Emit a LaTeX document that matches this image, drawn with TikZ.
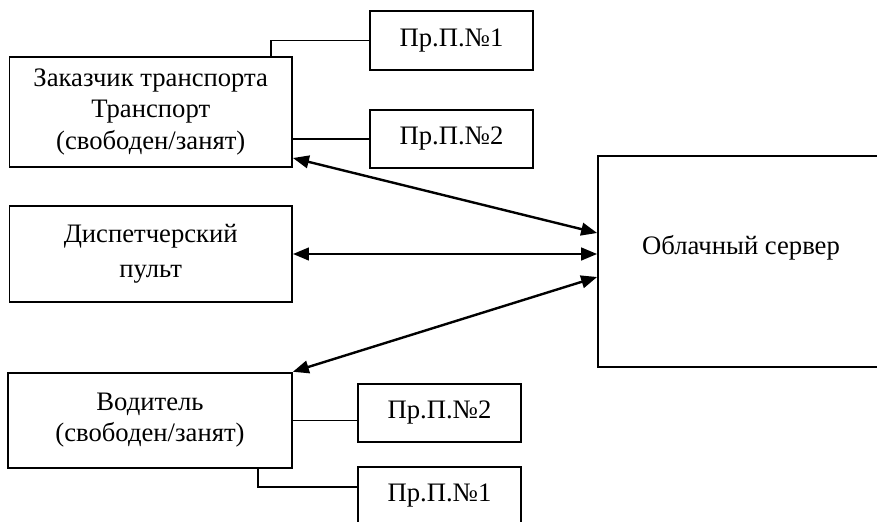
\documentclass[tikz,border=0pt]{standalone}
\usepackage{fontspec}
\setmainfont{Liberation Serif}
\usetikzlibrary{arrows.meta}
\tikzset{
  box/.style={draw, line width=1.3pt, inner sep=0pt, align=center, font=\fontsize{20}{23.5}\selectfont},
  link/.style={line width=1.2pt},
  dblarrow/.style={line width=1.8pt, {Triangle[length=12pt,width=9.5pt]}-{Triangle[length=12pt,width=9.5pt]}}
}
\begin{document}
\begin{tikzpicture}[x=0.75pt,y=0.75pt,yscale=-1,xscale=1]
            \useasboundingbox (0,0) rectangle (877,521);
            \clip (0,0) rectangle (877,521);
            %Shape: Rectangle [id:zak]
            \node [box, minimum width=212pt, minimum height=82.5pt] (zak) at (150.75,112) {Заказчик транспорта\\Транспорт\\(свободен/занят)};
            %Shape: Rectangle [id:pp1a]
            \node [box, minimum width=122pt, minimum height=44pt] (pp1a) at (451.5,40.5) {Пр.П.№1};
            %Shape: Rectangle [id:pp2a]
            \node [box, minimum width=122pt, minimum height=44pt] (pp2a) at (451.5,139) {Пр.П.№2};
            %Shape: Rectangle [id:disp]
            \node [box, minimum width=212pt, minimum height=72pt] (disp) at (150.75,254) {Диспетчерский\\[3pt]пульт};
            %Shape: Rectangle [id:cloud]
            \node [box, minimum width=214.5pt, minimum height=158pt] (cloud) at (741,261.5) {};
            % Text Node
            \node [font=\fontsize{20}{23.5}\selectfont, inner sep=0pt] (cloudtxt) at (741,248) {Облачный сервер};
            %Shape: Rectangle [id:vod]
            \node [box, minimum width=213pt, minimum height=71.5pt] (vod) at (150,420.3) {Водитель\\(свободен/занят)};
            %Shape: Rectangle [id:pp2b]
            \node [box, minimum width=122pt, minimum height=44pt] (pp2b) at (439.5,413) {Пр.П.№2};
            %Shape: Rectangle [id:pp1b]
            \node [box, minimum width=122pt, minimum height=44pt] (pp1b) at (439.5,496) {Пр.П.№1};

            %Straight Lines
            \draw [link] (zak.north -| 271,0) |- (pp1a.west);
            \draw [link] (pp2a.west -| zak.east) -- (pp2a.west);
            \draw [link] (vod.east) -- (vod.east -| pp2b.west);
            \coordinate (vodbend) at (258,487);
            \draw [link] (vod.south -| vodbend) -- (vodbend) -- (vodbend -| pp1b.west);

            %Arrows
            \draw [dblarrow] (zak.east |- 0,158) -- (cloud.west |- 0,233);
            \draw [dblarrow] (disp.east) -- (disp.east -| cloud.west);
            \draw [dblarrow] (vod.north east) -- (cloud.west |- 0,277);
\end{tikzpicture}
\end{document}
